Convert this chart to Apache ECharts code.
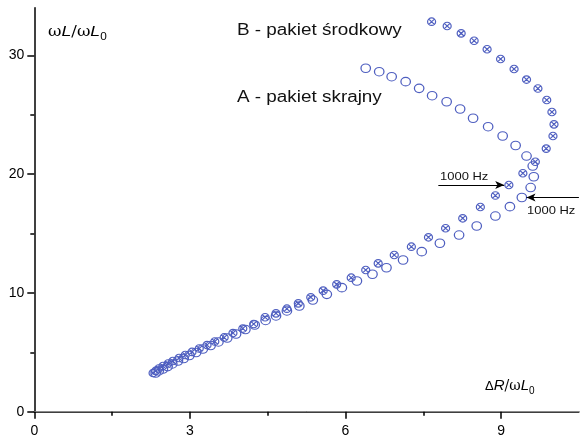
<!DOCTYPE html>
<html>
<head>
<meta charset="utf-8">
<script src="https://cdn.jsdelivr.net/npm/echarts@6/dist/echarts.min.js"></script>
<style>
html,body{margin:0;padding:0;background:#fff;}
#chart{width:580px;height:441px;}
</style>
</head>
<body>
<div id="chart"></div>
<script>
// B - pakiet srodkowy (krzyzyki w kolkach)
var bX = [7.66, 7.96, 8.23, 8.48, 8.73, 8.99, 9.25, 9.49, 9.71, 9.88, 9.98, 10.02, 10.0, 9.87, 9.66, 9.42, 9.15, 8.89, 8.60, 8.26,
          7.93, 7.60, 7.27, 6.94, 6.63, 6.39, 6.11, 5.83, 5.57, 5.33, 5.09, 4.87, 4.66, 4.45, 4.23, 4.02, 3.83, 3.66, 3.48, 3.33,
          3.18, 3.04, 2.91, 2.79, 2.67, 2.58, 2.48, 2.40, 2.34, 2.29];
var bY = [32.83, 32.47, 31.85, 31.23, 30.51, 29.69, 28.85, 27.96, 27.21, 26.24, 25.23, 24.19, 23.21, 22.15, 21.04, 20.07, 19.08, 18.2, 17.23, 16.28,
          15.44, 14.68, 13.89, 13.19, 12.49, 11.93, 11.28, 10.72, 10.19, 9.63, 9.12, 8.67, 8.28, 7.95, 7.38, 7.0, 6.62, 6.25, 5.91, 5.61,
          5.32, 5.03, 4.77, 4.52, 4.27, 4.06, 3.85, 3.64, 3.43, 3.26];
// A - pakiet skrajny (puste kolka)
var aX = [6.39, 6.65, 6.89, 7.16, 7.42, 7.67, 7.95, 8.21, 8.46, 8.75, 9.03, 9.28, 9.49, 9.61, 9.63, 9.57, 9.40, 9.17, 8.89, 8.53,
          8.19, 7.82, 7.47, 7.11, 6.79, 6.52, 6.22, 5.93, 5.64, 5.37, 5.11, 4.87, 4.66, 4.46, 4.25, 4.07, 3.89, 3.72, 3.55, 3.40,
          3.25, 3.12, 2.99, 2.88, 2.77, 2.66, 2.57, 2.48, 2.40, 2.34];
var aY = [28.91, 28.62, 28.2, 27.78, 27.22, 26.6, 26.09, 25.48, 24.7, 23.99, 23.21, 22.41, 21.52, 20.68, 19.78, 18.87, 18.03, 17.26, 16.47, 15.63,
          14.87, 14.18, 13.47, 12.77, 12.12, 11.57, 11.0, 10.44, 9.88, 9.40, 8.90, 8.48, 8.06, 7.68, 7.30, 6.92, 6.54, 6.20, 5.87, 5.57,
          5.28, 4.98, 4.73, 4.48, 4.27, 4.02, 3.80, 3.59, 3.43, 3.26];
var xMajor = [0, 3, 6, 9];
var xMinor = [1.5, 4.5, 7.5];
var yMajor = [0, 10, 20, 30];
var yMinor = [5, 15, 25];
// punkty 1000 Hz
var markB = [9.15, 19.08];
var markA = [9.40, 18.03];

var blue = '#4f5fc0';
var font = '"Liberation Sans", Arial, sans-serif';
var stretch = 1.18; // oryginal jest troche rozciagniety w poziomie

function zip(xs, ys){
    var out = [];
    for (var i = 0; i < xs.length; i++) out.push([xs[i], ys[i]]);
    return out;
}

var chart = echarts.init(document.getElementById('chart'));
var option = {
    animation: false,
    grid: {left: 34.3, right: 1.1, top: 7.8, bottom: 29.3, outerBoundsMode: 'none'},
    xAxis: [{
        type: 'value', min: 0, max: 10.5, position: 'bottom',
        axisLine: {show: true, onZero: false, lineStyle: {color: '#000', width: 1.5}},
        axisTick: {show: true, customValues: xMajor, length: 7, lineStyle: {color: '#000', width: 1.5}},
        axisLabel: {customValues: xMajor, margin: 12, color: '#000', fontSize: 14, fontFamily: font},
        splitLine: {show: false}
    }, {
        type: 'value', min: 0, max: 10.5, position: 'bottom',
        axisLine: {show: false},
        axisTick: {show: true, customValues: xMinor, length: 4, lineStyle: {color: '#000', width: 1.5}},
        axisLabel: {show: false},
        splitLine: {show: false}
    }, {
        type: 'value', min: 0, max: 10.5, position: 'top',
        axisLine: {show: true, lineStyle: {color: '#8a8a8a', width: 1}},
        axisTick: {show: false}, axisLabel: {show: false}, splitLine: {show: false}
    }],
    yAxis: [{
        type: 'value', min: 0, max: 34, position: 'left',
        axisLine: {show: true, onZero: false, lineStyle: {color: '#000', width: 1.5}},
        axisTick: {show: true, customValues: yMajor, length: 7, lineStyle: {color: '#000', width: 1.5}},
        axisLabel: {customValues: yMajor, margin: 10, color: '#000', fontSize: 14, fontFamily: font},
        splitLine: {show: false}
    }, {
        type: 'value', min: 0, max: 34, position: 'left',
        axisLine: {show: false},
        axisTick: {show: true, customValues: yMinor, length: 4, lineStyle: {color: '#000', width: 1.5}},
        axisLabel: {show: false},
        splitLine: {show: false}
    }],
    series: [{
        name: 'A - pakiet skrajny',
        type: 'scatter',
        data: zip(aX, aY),
        symbol: 'circle',
        symbolSize: [9.5, 8.5],
        itemStyle: {color: 'rgba(0,0,0,0)', borderColor: blue, borderWidth: 1.2, opacity: 1},
        markLine: {
            silent: true, animation: false,
            symbol: ['none', 'arrow'], symbolSize: [6, 9],
            lineStyle: {color: '#000', width: 1, type: 'solid'},
            label: {show: false},
            data: [[{coord: [10.5, markA[1]]}, {coord: [markA[0] + 0.09, markA[1]]}]]
        }
    }, {
        name: 'B - pakiet środkowy',
        type: 'scatter',
        data: zip(bX, bY),
        symbol: 'path://M0,10A10,10,0,1,1,20,10A10,10,0,1,1,0,10ZM3,3L17,17M17,3L3,17',
        symbolSize: [8, 7.5],
        itemStyle: {color: 'rgba(0,0,0,0)', borderColor: blue, borderWidth: 1.2, opacity: 1},
        markLine: {
            silent: true, animation: false,
            symbol: ['none', 'arrow'], symbolSize: [6, 9],
            lineStyle: {color: '#000', width: 1, type: 'solid'},
            label: {show: false},
            data: [[{coord: [7.79, markB[1]]}, {coord: [markB[0] - 0.09, markB[1]]}]]
        }
    }],
    graphic: [{
        type: 'text', left: 48, top: 24, scaleX: stretch,
        style: {
            text: '{w|ω}{i|L}{w|/ω}{i|L}{s|0}',
            rich: {
                w: {fontSize: 14, fontFamily: 'DejaVu Serif, serif', fill: '#000', lineHeight: 20, verticalAlign: 'bottom'},
                i: {fontSize: 15, fontStyle: 'italic', fontFamily: font, fill: '#000', lineHeight: 20, verticalAlign: 'bottom'},
                s: {fontSize: 10, fontFamily: font, fill: '#000', lineHeight: 14, verticalAlign: 'bottom', padding: [0, 0, -3, 0]}
            }
        }
    }, {
        type: 'text', left: 485, top: 378,
        style: {
            text: '{d|Δ}{i|R}{w|/ω}{i|L}{s|0}',
            rich: {
                d: {fontSize: 13, fontFamily: font, fill: '#000', lineHeight: 20, verticalAlign: 'bottom'},
                w: {fontSize: 14, fontFamily: 'DejaVu Serif, serif', fill: '#000', lineHeight: 20, verticalAlign: 'bottom'},
                i: {fontSize: 15, fontStyle: 'italic', fontFamily: font, fill: '#000', lineHeight: 20, verticalAlign: 'bottom'},
                s: {fontSize: 10, fontFamily: font, fill: '#000', lineHeight: 14, verticalAlign: 'bottom', padding: [0, 0, -3, 0]}
            }
        }
    }, {
        type: 'text', left: 237, top: 23, scaleX: stretch,
        style: {text: 'B - pakiet środkowy', fontSize: 16, fontFamily: font, fill: '#111'}
    }, {
        type: 'text', left: 237, top: 90, scaleX: stretch,
        style: {text: 'A - pakiet skrajny', fontSize: 16, fontFamily: font, fill: '#111'}
    }, {
        type: 'text', left: 440, top: 171, scaleX: stretch,
        style: {text: '1000 Hz', fontSize: 11, fontFamily: font, fill: '#111'}
    }, {
        type: 'text', left: 527, top: 205, scaleX: stretch,
        style: {text: '1000 Hz', fontSize: 11, fontFamily: font, fill: '#111'}
    }]
};
chart.setOption(option);
</script>
</body>
</html>
